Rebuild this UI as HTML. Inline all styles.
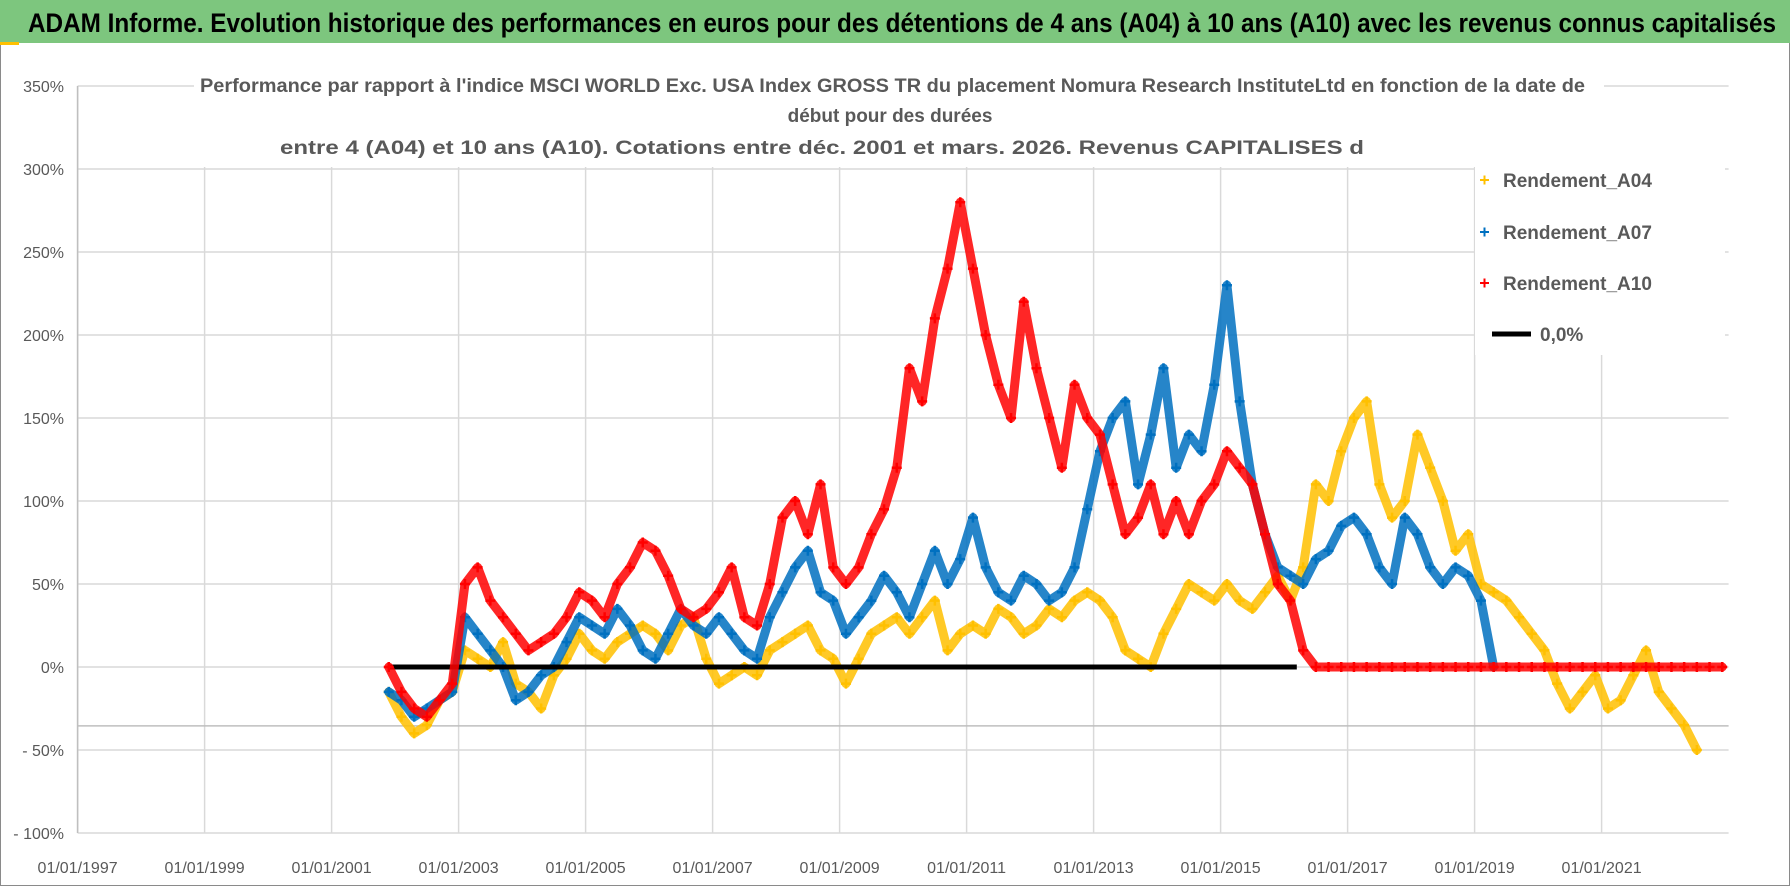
<!DOCTYPE html>
<html><head><meta charset="utf-8"><style>
html,body{margin:0;padding:0;background:#fff;}
svg{display:block;font-family:"Liberation Sans",sans-serif;}
</style></head><body>
<svg id="chart" width="1790" height="886" viewBox="0 0 1790 886" xmlns="http://www.w3.org/2000/svg">
<rect x="0.5" y="0.5" width="1789" height="885" fill="#fff" stroke="#8a8a8a"/>
<rect x="0" y="0" width="1790" height="43" fill="#7dc67e"/>
<rect x="0" y="42" width="19" height="3" fill="#ffc000"/>
<text x="28" y="32" font-size="27" font-weight="bold" fill="#000" textLength="1748" lengthAdjust="spacingAndGlyphs">ADAM Informe. Evolution historique des performances en euros pour des détentions de 4 ans (A04) à 10 ans (A10) avec les revenus connus capitalisés</text>
<g id="grid"></g>
<g id="marks"></g>
<rect x="194" y="74" width="1410" height="93" fill="#fff"/>
<text x="200" y="92" font-size="19" font-weight="bold" fill="#595959" textLength="1385" lengthAdjust="spacingAndGlyphs">Performance par rapport à l'indice MSCI WORLD Exc. USA Index GROSS TR  du placement Nomura Research InstituteLtd en fonction de la date de</text>
<text x="890" y="122" font-size="19" font-weight="bold" fill="#595959" text-anchor="middle">début pour des durées</text>
<text x="280" y="154" font-size="19" font-weight="bold" fill="#595959" textLength="1084" lengthAdjust="spacingAndGlyphs">entre 4 (A04) et 10 ans (A10). Cotations entre déc. 2001 et mars. 2026. Revenus CAPITALISES d</text>
<g id="legend">
<rect x="1475" y="160" width="250" height="195" fill="#fff"/>
</g>
</svg>
<script>
const yTicks = [350,300,250,200,150,100,50,0,-50,-100];
const yTickLabels = ["350%","300%","250%","200%","150%","100%","50%","0%","- 50%","- 100%"];
const xTicks = [1997,1999,2001,2003,2005,2007,2009,2011,2013,2015,2017,2019,2021];
const xTickLabels = ["01/01/1997","01/01/1999","01/01/2001","01/01/2003","01/01/2005","01/01/2007","01/01/2009","01/01/2011","01/01/2013","01/01/2015","01/01/2017","01/01/2019","01/01/2021"];
const startYear = 2001.9;
const stepYears = 0.2;
const rendementA04 = [-15,-30,-40,-35,-20,-15, 10,5,0,15,-10, -15,-25,-5,5,20, 10,5,15,20,25, 20,10,25,30,5, -10,-5,0,-5,10, 15,20,25,10,5, -10,5,20,25,30, 20,30,40,10,20, 25,20,35,30,20, 25,35,30,40,45, 40,30,10,5,0, 20,35,50,45,40, 50,40,35,45,55, 40,60,110,100,130, 150,160,110,90,100, 140,120,100,70,80, 50,45,40,30,20, 10,-10,-25,-15,-5, -25,-20,-5,10,-15, -25,-35,-50];
const rendementA07 = [-15,-20,-30,-25,-20,-15, 30,20,10,0,-20, -15,-5,0,15,30, 25,20,35,25,10, 5,20,35,25,20, 30,20,10,5,30, 45,60,70,45,40, 20,30,40,55,45, 30,50,70,50,65, 90,60,45,40,55, 50,40,45,60,95, 130,150,160,110,140, 180,120,140,130,170, 230,160,110,80,60, 55,50,65,70,85, 90,80,60,50,90, 80,60,50,60,55, 40,0];
const rendementA10 = [0,-15,-25,-30,-20,-10, 50,60,40,30,20, 10,15,20,30,45, 40,30,50,60,75, 70,55,35,30,35, 45,60,30,25,50, 90,100,80,110,60, 50,60,80,95,120, 180,160,210,240,280, 240,200,170,150,220, 180,150,120,170,150, 140,110,80,90,110, 80,100,80,100,110, 130,120,110,80,50, 40,10, 0,0,0,0,0,0,0,0,0,0,0,0,0,0,0,0,0,0,0,0,0,0,0,0,0,0,0,0,0,0,0,0,0];
const zeroLineRange = [2001.9, 2016.2];

const NS = "http://www.w3.org/2000/svg";
const X0 = 77.6, PX_PER_YEAR = 63.5, Y0 = 667, PX_PER_PCT = 83/50;
const xScale = yr => X0 + (yr - 1997) * PX_PER_YEAR;
const yScale = v => Y0 - v * PX_PER_PCT;
const plotLeft = xScale(1997), plotRight = xScale(2023);
function mk(tag, attrs, parent){ const e=document.createElementNS(NS,tag); for(const k in attrs) e.setAttribute(k, attrs[k]); parent.appendChild(e); return e; }
const grid = document.getElementById('grid');
yTicks.forEach((t,i)=>{
  const l = mk('line',{x1:plotLeft,x2:plotRight,y1:yScale(t),y2:yScale(t),stroke:'#d9d9d9','stroke-width':1.5},grid);
  
  
  const tx = mk('text',{x:64,y:yScale(t)+6,'font-size':16,fill:'#595959','text-anchor':'end'},grid);
  tx.textContent = yTickLabels[i];
  
  
});
xTicks.forEach((t,i)=>{
  const l = mk('line',{x1:xScale(t),x2:xScale(t),y1:yScale(350),y2:yScale(-100),stroke:'#d9d9d9','stroke-width':1.5},grid);
  
  
  const tx = mk('text',{x:xScale(t),y:873,'font-size':16,fill:'#595959','text-anchor':'middle'},grid);
  tx.textContent = xTickLabels[i];
  
  
});
const axisLine = mk('line',{x1:plotLeft,x2:plotRight,y1:yScale(-35.5),y2:yScale(-35.5),stroke:'#bfbfbf','stroke-width':1.5},grid);


const yAxis = mk('line',{x1:plotLeft,x2:plotLeft,y1:yScale(350),y2:yScale(-100),stroke:'#bfbfbf','stroke-width':1.5},grid);



const marks = document.getElementById('marks');
function drawSeries(vals, color, name){
  const g = mk('g',{},marks);
  
  
  const pts = vals.map((v,i)=>[xScale(startYear+i*stepYears), yScale(v)]);
  mk('polyline',{points:pts.map(p=>p.join(',')).join(' '),fill:'none',stroke:color,'stroke-width':9,'stroke-opacity':0.85,'stroke-linejoin':'round','stroke-linecap':'round'},g);
  pts.forEach(p=>{
    const m = mk('path',{d:`M${p[0]-5},${p[1]}H${p[0]+5}M${p[0]},${p[1]-5}V${p[1]+5}`,stroke:color,'stroke-width':2.5},g);
    
    
  });
}
drawSeries(rendementA04,'#ffc000','series-a04');
drawSeries(rendementA07,'#0070c0','series-a07');
const zl = mk('line',{x1:xScale(zeroLineRange[0]),x2:xScale(zeroLineRange[1]),y1:yScale(0),y2:yScale(0),stroke:'#000','stroke-width':5},marks);


drawSeries(rendementA10,'#ff0000','series-a10');

const legend = document.getElementById('legend');
const legendItems = [["Rendement_A04","#ffc000",180],["Rendement_A07","#0070c0",232],["Rendement_A10","#ff0000",283]];
legendItems.forEach(([label,color,y])=>{
  const g = mk('g',{},legend);
  
  
  mk('path',{d:`M1480,${y}H1489M1484.5,${y-4.5}V${y+4.5}`,stroke:color,'stroke-width':2},g);
  const t = mk('text',{x:1503,y:y+7,'font-size':19,'font-weight':'bold',fill:'#595959'},g);
  t.textContent = label;
});
const lg = mk('g',{},legend);


mk('line',{x1:1492,x2:1531,y1:334,y2:334,stroke:'#000','stroke-width':5},lg);
const lt = mk('text',{x:1540,y:341,'font-size':19,'font-weight':'bold',fill:'#595959'},lg);
lt.textContent = "0,0%";
</script>
</body></html>
